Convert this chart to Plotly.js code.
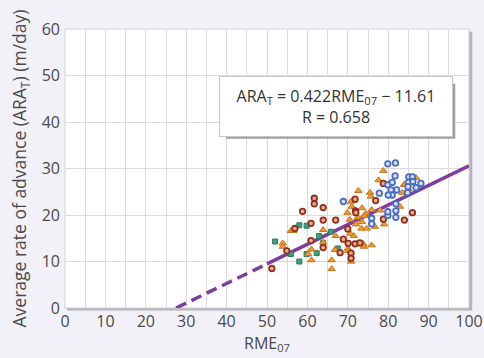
<!DOCTYPE html>
<html><head><meta charset="utf-8">
<script src="https://cdn.plot.ly/plotly-3.0.1.min.js"></script>
<style>html,body{margin:0;padding:0;background:#f3f1f8;}</style>
</head><body><div id="chart" style="width:484px;height:358px;"></div>
<script>
// Blue circles
const blueX = [79.9,81.8,81.7,85.1,86.0,79.9,81.0,85.0,86.1,88.1,84.9,86.9,80.7,82.1,84.8,81.0,80.0,77.8,68.9,81.9,81.9,79.9,75.9,81.9,75.9,79.9];
const blueY = [31.0,31.2,28.4,28.2,28.2,26.5,27.0,27.0,27.2,26.8,26.1,25.9,25.4,25.4,24.8,24.3,24.3,24.7,22.9,22.4,20.9,19.9,19.3,19.5,18.1,20.7];
// Brown circles
const brownX = [78.8,76.9,71.8,61.7,61.7,63.9,58.8,71.9,86.0,63.9,67.0,60.9,56.9,60.9,63.9,54.9,51.2,78.8,84.0,68.9,70.1,71.8,73.0,68.1,70.8,70.8,72.0,70.0];
const brownY = [26.8,23.1,23.4,23.6,22.4,21.6,20.8,20.9,20.5,18.9,18.9,18.2,17.1,14.5,13.0,12.3,8.5,19.1,18.9,14.8,13.9,13.8,14.0,11.9,11.8,10.7,20.5,17.0];
// Orange triangles
const orangeX = [78.8,77.6,83.9,86.9,84.1,85.0,83.5,72.6,75.5,75.7,70.8,69.9,75.9,82.9,73.5,71.0,74.5,72.5,70.5,73.5,72.0,74.0,76.7,73.4,74.7,55.9,56.5,63.9,67.0,53.9,53.9,63.9,61.0,66.8,60.2,61.0,66.0,66.0,70.6,71.5,73.8,74.0,75.9,70.0,70.1,70.8,79.0,78.0];
const orangeY = [29.5,27.5,26.5,28.0,26.5,25.6,24.8,25.2,24.8,24.0,22.9,20.5,21.1,21.8,21.5,21.8,20.3,19.5,19.0,18.5,18.0,19.8,17.5,17.1,17.1,16.6,16.6,16.8,15.5,13.9,13.2,14.1,12.6,12.5,11.6,10.3,10.3,8.4,16.0,15.5,13.8,13.2,13.5,12.8,12.3,10.0,18.0,21.0];
// Green squares
const greenX = [58.0,59.8,65.8,62.9,52.0,55.9,59.8,58.0,63.9,62.3,67.5];
const greenY = [17.8,17.7,16.4,15.5,14.3,11.6,11.6,10.0,14.0,11.8,12.8];
// Regression
const slope = 0.422, intercept = -11.61;
const dashX = [27.51, 50];
const solidX = [50, 100];
const xTicks = [0,10,20,30,40,50,60,70,80,90,100];
const yTicks = [0,10,20,30,40,50,60];

const purple = '#7e3f9c';
const traces = [
  {x: dashX, y: dashX.map(v => slope*v + intercept), mode:'lines', line:{color:purple, width:3.5, dash:'11px,6px'}, hoverinfo:'skip'},
  {x: solidX, y: solidX.map(v => slope*v + intercept), mode:'lines', line:{color:purple, width:3.5}, hoverinfo:'skip'},
  {x: greenX, y: greenY, mode:'markers', marker:{symbol:'square', size:5, color:'#3f9f72', line:{color:'#2a7a6a', width:1}}},
  {x: orangeX, y: orangeY, mode:'markers', marker:{symbol:'triangle-up', size:6.5, color:'#ee9a2e', line:{color:'#c8741e', width:1}}},
  {x: brownX, y: brownY, mode:'markers', marker:{symbol:'circle', size:5.5, color:'#f0b070', line:{color:'#8e2e2a', width:1.8}}},
  {x: blueX, y: blueY, mode:'markers', marker:{symbol:'circle', size:5.5, color:'#dde4f6', line:{color:'#4a6cc4', width:1.8}}}
];

const layout = {
  width:484, height:358,
  margin:{l:65, r:15, t:29, b:50},
  paper_bgcolor:'#f3f1f8',
  plot_bgcolor:'rgba(0,0,0,0)',
  showlegend:false,
  font:{family:'"Open Sans", "Noto Sans", sans-serif', color:'#444'},
  xaxis:{range:[0,100], tickvals:xTicks, ticktext:xTicks.map(String), showgrid:true, gridcolor:'#dcdcdc', gridwidth:1,
    minor:{dtick:5, tick0:0, showgrid:true, gridcolor:'#dcdcdc', gridwidth:1},
    zeroline:false, showline:false, ticks:'', tickfont:{size:16, color:'#4a4a4a'}, ticklabelstandoff:2,
    title:{text:'RME<sub>07</sub>', font:{size:16, color:'#4a4a4a'}, standoff:4}},
  yaxis:{range:[0,60], tickvals:yTicks, ticktext:yTicks.map(String), showgrid:true, gridcolor:'#dcdcdc', gridwidth:1,
    zeroline:false, showline:false, ticks:'', tickfont:{size:16, color:'#4a4a4a'}, ticklabelstandoff:4,
    title:{text:'Average rate of advance (ARA<sub>T</sub>) (m/day)', font:{size:17.5, color:'#4a4a4a'}, standoff:10}},
  shapes:[
    {type:'rect', xref:'paper', yref:'paper', x0:0.005, x1:1.008, y0:-0.009, y1:0.99, fillcolor:'#b4b2bc', line:{width:0}, layer:'below'},
    {type:'rect', xref:'paper', yref:'paper', x0:0, x1:1, y0:0, y1:1, fillcolor:'#ffffff', line:{color:'#d2d2d2', width:1}, layer:'below'},
    {type:'rect', xref:'x', yref:'y', x0:39.8, x1:96.6, y0:36.4, y1:48.2, fillcolor:'#a0a0a0', line:{width:0}, layer:'above'}
  ],
  annotations:[
    {xref:'x', yref:'y', x:67.0, y:43.4, text:'ARA<sub>T</sub> = 0.422RME<sub>07</sub> − 11.61<br>R = 0.658', showarrow:false,
     font:{size:16, color:'#333'}, bgcolor:'#ffffff', bordercolor:'#c8c8c8', borderwidth:1, borderpad:8, width:216, align:'center'}
  ]
};
Plotly.newPlot('chart', traces, layout, {displayModeBar:false, staticPlot:true});
</script></body></html>
